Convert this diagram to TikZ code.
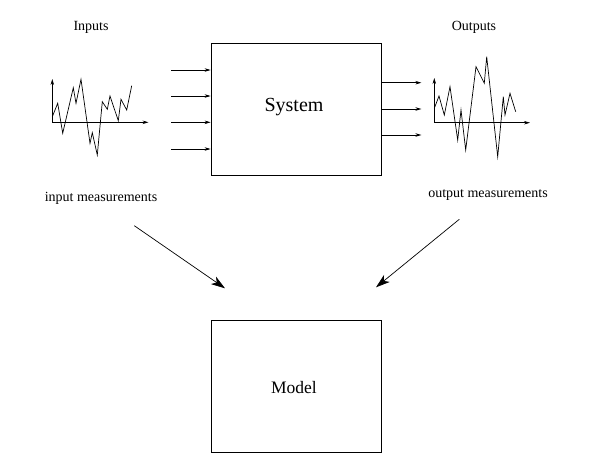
\documentclass[tikz,border=0pt]{standalone}
\usepackage{fontspec}
\setmainfont{Liberation Serif}
\usetikzlibrary{arrows.meta}
\begin{document}
\begin{tikzpicture}[x=1pt,y=-1pt,
  box/.style={draw,line width=0.8pt,inner sep=0pt,minimum width=170pt,minimum height=132pt},
  lbl/.style={inner sep=0pt,font=\fontsize{14}{16}\selectfont},
  sig/.style={line width=0.7pt,line join=miter},
  ax/.style={line width=0.7pt,-{Stealth[length=6pt,width=3.5pt]}},
  feed/.style={line width=0.7pt,-{Stealth[length=6pt,width=3.5pt]}},
  big/.style={line width=0.7pt,-{Stealth[length=14pt,width=9pt,inset=4pt]}}]
\useasboundingbox (0,0) rectangle (590,475);
% boxes
\node[box] (sys) at (296,109) {};
\node[lbl,font=\fontsize{20}{24}\selectfont] (systxt) at (294,107) {System};
\node[box] (model) at (296,386) {};
\node[lbl,font=\fontsize{17.5}{20}\selectfont] (modeltxt) at (294,388) {Model};
% labels
\node[lbl] (inlbl) at (91,27) {Inputs};
\node[lbl] (outlbl) at (474,27) {Outputs};
\node[lbl] (inmeas) at (101,198) {input measurements};
\node[lbl] (outmeas) at (488,195) {output measurements};
% input arrows
\foreach \y [count=\i] in {70,96,122.3,149} {
  \coordinate (in\i) at (171,\y);
  \draw[feed] (in\i) -- (in\i -| sys.west);
}
% output arrows
\foreach \y [count=\i] in {82.7,109,135} {
  \coordinate (out\i) at (0,\y);
  \draw[feed] (out\i -| sys.east) -- ++(40,0);
}
% input axes
\coordinate (iorig) at (52.3,122.3);
\draw[ax] (iorig) -- (52.3,79);
\draw[ax] (iorig) -- (148.5,122.3);
\draw[sig] (52.3,116.7) -- (57.7,103.3) -- (62.7,133.3) -- (73.3,87.7) -- (76,103.3) -- (81,79.3)
  -- (90,143.3) -- (92.3,132.7) -- (97.3,155) -- (102.3,101.7) -- (107.3,109.3) -- (110,96)
  -- (118.3,120.7) -- (121,99.3) -- (126.7,110) -- (131.7,85.7);
% output axes
\coordinate (oorig) at (434.3,122.7);
\draw[ax] (oorig) -- (434.3,78);
\draw[ax] (oorig) -- (530,122.7);
\draw[sig] (434.3,108.3) -- (439,96) -- (444.3,115) -- (450,86.7) -- (457.7,140) -- (461,110)
  -- (465.7,150) -- (476,66.7) -- (484.3,83.3) -- (486.7,56.7) -- (497.7,156.7) -- (503.3,96.7)
  -- (505,115) -- (510,93.3) -- (515.7,111.7);
% measurement arrows
\coordinate (d1s) at (134.3,225.7);
\coordinate (d1e) at (225,288.3);
\coordinate (d2s) at (459.3,219.3);
\coordinate (d2e) at (376,287.3);
\draw[big] (d1s) -- (d1e);
\draw[big] (d2s) -- (d2e);
\end{tikzpicture}
\end{document}
